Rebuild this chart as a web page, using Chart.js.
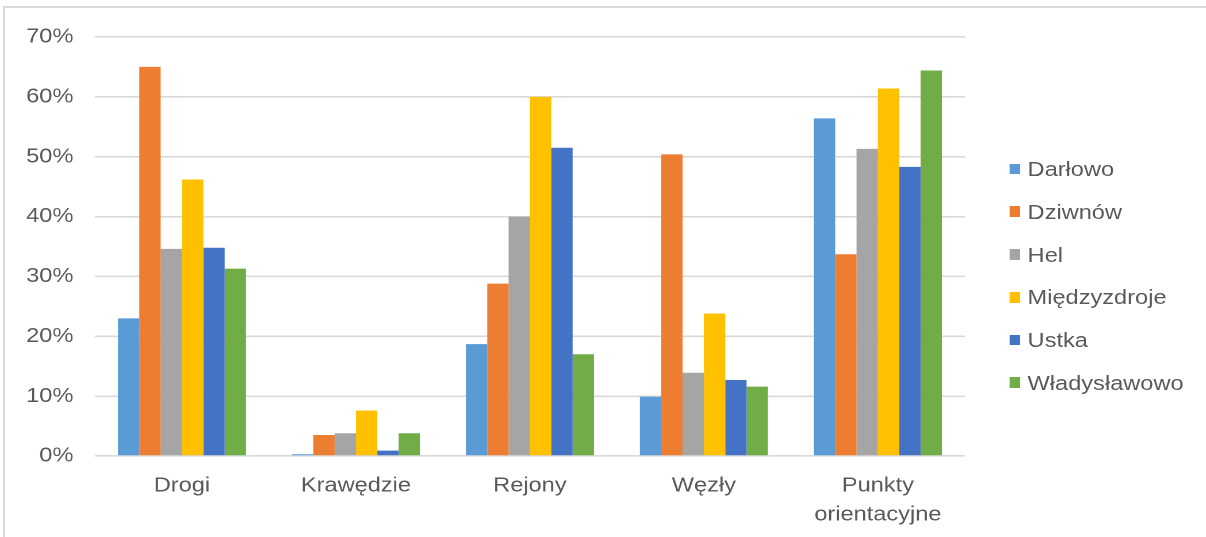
<!DOCTYPE html>
<html>
<head>
<meta charset="utf-8">
<script src="https://cdn.jsdelivr.net/npm/chart.js@4"></script>
<style>
  html, body { margin:0; padding:0; background:#fff; width:1206px; height:537px; overflow:hidden; }
  #frame { position:absolute; left:3px; top:6px; width:1203px; height:531px; border-left:2px solid #d9d9d9; border-top:2px solid #d9d9d9; box-sizing:border-box; }
  #wrap { position:absolute; left:0; top:0; width:1049px; height:537px; transform:scaleX(1.15); transform-origin:0 0; }
  #chartBox { position:absolute; left:0; top:0; width:1049px; height:537px; }
  #legend { position:absolute; left:0; top:0; width:1049px; height:537px; font-family:'Liberation Sans', Arial, sans-serif; font-size:20.5px; color:#595959; }
  .lg-item { position:absolute; height:24px; display:flex; align-items:center; white-space:nowrap; }
  .lg-box { width:9.3px; height:10.7px; margin-right:6.6px; flex:none; }
</style>
</head>
<body>
<div id="frame"></div>
<div id="wrap">
  <div id="chartBox"><canvas id="c"></canvas></div>
  <div id="legend"></div>
</div>
<script>
const categories = ['Drogi', 'Krawędzie', 'Rejony', 'Węzły', ['Punkty', 'orientacyjne']];
const seriesNames = ['Darłowo', 'Dziwnów', 'Hel', 'Międzyzdroje', 'Ustka', 'Władysławowo'];
const darlowo      = [23.0, 0.3, 18.7,  9.9, 56.4];
const dziwnow      = [65.0, 3.5, 28.8, 50.4, 33.7];
const hel          = [34.6, 3.8, 40.0, 13.9, 51.3];
const miedzyzdroje = [46.2, 7.6, 60.0, 23.8, 61.4];
const ustka        = [34.8, 0.9, 51.5, 12.7, 48.3];
const wladyslawowo = [31.3, 3.8, 17.0, 11.6, 64.4];
const seriesColors = ['#5B9BD5', '#ED7D31', '#A5A5A5', '#FFC000', '#4472C4', '#70AD47'];
const yMax = 70;
const yStep = 10;

const seriesValues = [darlowo, dziwnow, hel, miedzyzdroje, ustka, wladyslawowo];
const textColor = '#595959';
const font = { family: "'Liberation Sans', Arial, sans-serif", size: 20.5 };

const datasets = seriesNames.map((name, i) => ({
  label: name,
  data: seriesValues[i],
  backgroundColor: seriesColors[i],
  borderWidth: 0,
  categoryPercentage: 0.736,
  barPercentage: 1.0
}));

new Chart(document.getElementById('c'), {
  type: 'bar',
  data: { labels: categories, datasets },
  options: {
    responsive: true,
    maintainAspectRatio: false,
    animation: false,
    devicePixelRatio: 2,
    layout: { padding: { left: 0, right: 210, top: 37, bottom: 0 } },
    plugins: { legend: { display: false }, tooltip: { enabled: false } },
    scales: {
      x: {
        grid: { display: false, drawTicks: false },
        border: { display: false },
        ticks: { color: textColor, font: { ...font, lineHeight: 1.4 }, padding: 15.6, maxRotation: 0, autoSkip: false },
        afterFit: (s) => { s.height = 81; }
      },
      y: {
        min: 0, max: yMax,
        grid: { color: '#d9d9d9', lineWidth: 1.6, drawTicks: false },
        border: { display: false },
        ticks: { stepSize: yStep, color: textColor, font, padding: 18.8, callback: (v) => v + '%' },
        afterFit: (s) => { s.width = 82.6; }
      }
    }
  }
});

const legend = document.getElementById('legend');
seriesNames.forEach((name, i) => {
  const item = document.createElement('div');
  item.className = 'lg-item';
  item.style.left = '877.7px';
  item.style.top = (169 + i * 42.75 - 12) + 'px';
  const box = document.createElement('span');
  box.className = 'lg-box';
  box.style.background = seriesColors[i];
  const txt = document.createElement('span');
  txt.textContent = name;
  item.appendChild(box);
  item.appendChild(txt);
  legend.appendChild(item);
});
</script>
</body>
</html>
